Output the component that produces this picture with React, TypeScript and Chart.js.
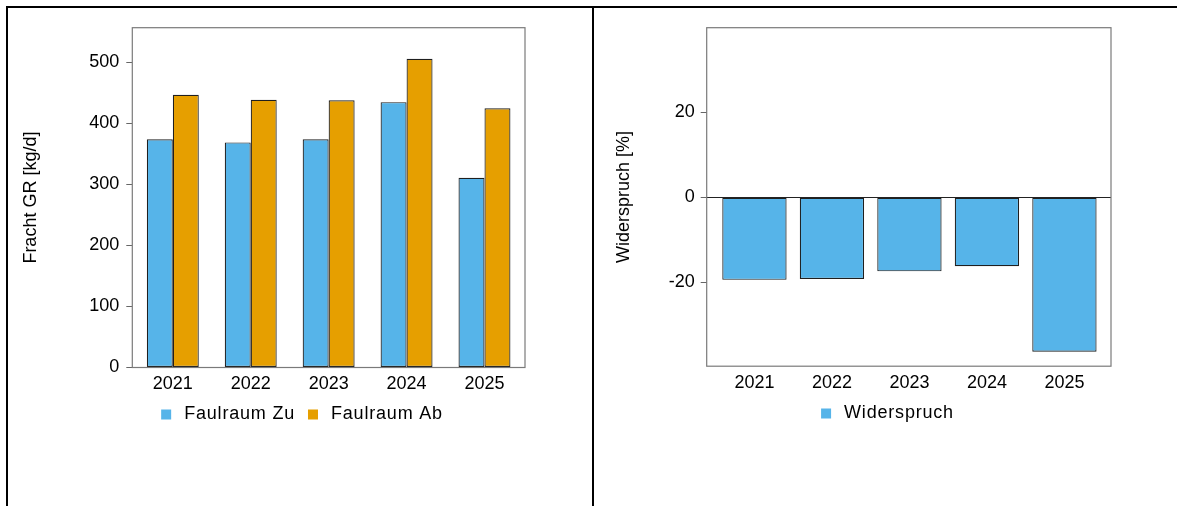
import { useEffect, useRef } from 'react'
import Chart from 'chart.js/auto'

// values
const years = ['2021', '2022', '2023', '2024', '2025']
const faulraumZu = [374, 369, 374, 435, 311]
const faulraumAb = [447, 439, 438, 506, 425]
const widerspruch = [-19.4, -19.2, -17.4, -16.2, -36.3]
const frachtTicks = [0, 100, 200, 300, 400, 500]
const widerspruchTicks = [-20, 0, 20]

const BLUE = '#56B4E9'
const ORANGE = '#E69F00'
const EDGE = '#1f1f1f'
const FONT = { family: '"Liberation Sans", Arial, sans-serif', size: 18 }

Chart.defaults.font.family = FONT.family
Chart.defaults.font.size = FONT.size
Chart.defaults.color = '#000'

// grey frame round the plot area, like R's box()
const plotBox = {
  id: 'plotBox',
  afterDatasetsDraw(chart: any) {
    const { ctx, chartArea: a } = chart
    ctx.save()
    ctx.strokeStyle = '#7a7a7a'
    ctx.lineWidth = 1.2
    ctx.strokeRect(a.left, a.top, a.right - a.left, a.bottom - a.top)
    ctx.restore()
  }
}

// the legend text in the reference is set a little wider than the axis text
const legendSpacing = {
  id: 'legendSpacing',
  afterInit(chart: any) {
    const lg = chart.legend
    if (!lg) return
    const ctx = chart.ctx
    ;['fit', 'draw'].forEach((name) => {
      const orig = lg[name].bind(lg)
      lg[name] = (...args: any[]) => {
        ctx.save()
        ctx.letterSpacing = '0.8px'
        const r = orig(...args)
        ctx.restore()
        return r
      }
    })
  }
}

const legendLabels = (chart: any) =>
  Chart.defaults.plugins.legend.labels
    .generateLabels(chart)
    .map((l: any) => ({ ...l, lineWidth: 0, strokeStyle: l.fillStyle }))

function makeOptions(o: {
  yMin: number
  yMax: number
  yTicks: number[]
  yTitle: string
  yWidth: number
  yTitlePad: number
  yTickPad: number
  xMin: number
  xMax: number
  xHeight: number
  rightWidth: number
  bottom: number
  zeroLine: boolean
}): any {
  return {
    responsive: true,
    maintainAspectRatio: false,
    animation: false,
    layout: { padding: { top: 19.7, bottom: o.bottom, left: 0, right: 0 } },
    plugins: {
      legend: {
        position: 'bottom',
        labels: {
          font: FONT,
          color: '#000',
          padding: 9,
          boxWidth: 18,
          boxHeight: 10,
          usePointStyle: true,
          pointStyle: 'rect',
          generateLabels: legendLabels
        }
      },
      tooltip: { enabled: false }
    },
    scales: {
      x: {
        type: 'linear',
        offset: false,
        min: o.xMin,
        max: o.xMax,
        afterBuildTicks: (s: any) => {
          s.ticks = years.map((_, i) => ({ value: i }))
        },
        afterFit: (s: any) => {
          s.height = o.xHeight
        },
        grid: { display: false, drawTicks: false },
        border: { display: false },
        ticks: {
          padding: 6,
          maxRotation: 0,
          autoSkip: false,
          font: FONT,
          color: '#000',
          callback: (v: any) => years[v]
        }
      },
      y: {
        min: o.yMin,
        max: o.yMax,
        afterBuildTicks: (s: any) => {
          s.ticks = o.yTicks.map((v) => ({ value: v }))
        },
        afterFit: (s: any) => {
          s.width = o.yWidth
        },
        grid: {
          drawOnChartArea: o.zeroLine,
          drawTicks: true,
          tickLength: 6,
          tickColor: '#666',
          lineWidth: 1,
          color: (c: any) => (c.tick && c.tick.value === 0 ? '#222' : 'rgba(0,0,0,0)')
        },
        border: { display: false },
        ticks: { padding: o.yTickPad, font: FONT, color: '#000' },
        title: {
          display: true,
          text: o.yTitle,
          font: FONT,
          color: '#000',
          padding: { top: o.yTitlePad, bottom: 0 }
        }
      },
      pad: {
        type: 'linear',
        position: 'right',
        afterFit: (s: any) => {
          s.width = o.rightWidth
        },
        grid: { display: false, drawTicks: false },
        border: { display: false },
        ticks: { display: false }
      }
    }
  }
}

const barStyle = {
  borderColor: EDGE,
  borderWidth: 1.2,
  borderSkipped: false,
  yAxisID: 'y'
}

function FrachtChart() {
  const canvasRef = useRef<HTMLCanvasElement>(null)

  useEffect(() => {
    if (!canvasRef.current) return
    const chart = new Chart(canvasRef.current, {
      type: 'bar',
      data: {
        datasets: [
          {
            ...barStyle,
            label: 'Faulraum Zu',
            data: years.map((_, i) => ({ x: i, y: faulraumZu[i] })),
            backgroundColor: BLUE,
            categoryPercentage: 2 / 3,
            barPercentage: 1
          },
          {
            ...barStyle,
            label: 'Faulraum Ab',
            data: years.map((_, i) => ({ x: i, y: faulraumAb[i] })),
            backgroundColor: ORANGE,
            categoryPercentage: 2 / 3,
            barPercentage: 1
          }
        ]
      } as any,
      options: makeOptions({
        yMin: 0,
        yMax: 557,
        yTicks: frachtTicks,
        yTitle: 'Fracht GR [kg/d]',
        yWidth: 124.3,
        yTitlePad: 12,
        yTickPad: 7,
        xMin: -0.52,
        xMax: 4.52,
        xHeight: 29,
        rightWidth: 67,
        bottom: 72.5,
        zeroLine: false
      }),
      plugins: [plotBox, legendSpacing]
    })
    chart.update()
    return () => chart.destroy()
  }, [])

  return <canvas ref={canvasRef}></canvas>
}

function WiderspruchChart() {
  const canvasRef = useRef<HTMLCanvasElement>(null)

  useEffect(() => {
    if (!canvasRef.current) return
    const chart = new Chart(canvasRef.current, {
      type: 'bar',
      data: {
        datasets: [
          {
            ...barStyle,
            label: 'Widerspruch',
            data: years.map((_, i) => ({ x: i, y: widerspruch[i] })),
            backgroundColor: BLUE,
            categoryPercentage: 1,
            barPercentage: 0.83
          }
        ]
      } as any,
      options: makeOptions({
        yMin: -39.7,
        yMax: 39.9,
        yTicks: widerspruchTicks,
        yTitle: 'Widerspruch [%]',
        yWidth: 112.7,
        yTitlePad: 19.5,
        yTickPad: 6,
        xMin: -0.616,
        xMax: 4.601,
        xHeight: 29.3,
        rightWidth: 66,
        bottom: 73.5,
        zeroLine: true
      }),
      plugins: [plotBox, legendSpacing]
    })
    chart.update()
    return () => chart.destroy()
  }, [])

  return <canvas ref={canvasRef}></canvas>
}

const line = (left: number, top: number, width: number, height: number) => (
  <div style={{ position: 'absolute', left, top, width, height, background: '#000' }} />
)

export default function App() {
  return (
    <div style={{ position: 'fixed', left: 0, top: 0, width: 1177, height: 506, background: '#fff', overflow: 'hidden' }}>
      {line(6, 6, 1171, 2)}
      {line(6, 6, 2, 500)}
      {line(592, 6, 2, 500)}
      <div style={{ position: 'absolute', left: 8, top: 8, width: 584, height: 498 }}>
        <FrachtChart />
      </div>
      <div style={{ position: 'absolute', left: 594, top: 8, width: 583, height: 498 }}>
        <WiderspruchChart />
      </div>
    </div>
  )
}
